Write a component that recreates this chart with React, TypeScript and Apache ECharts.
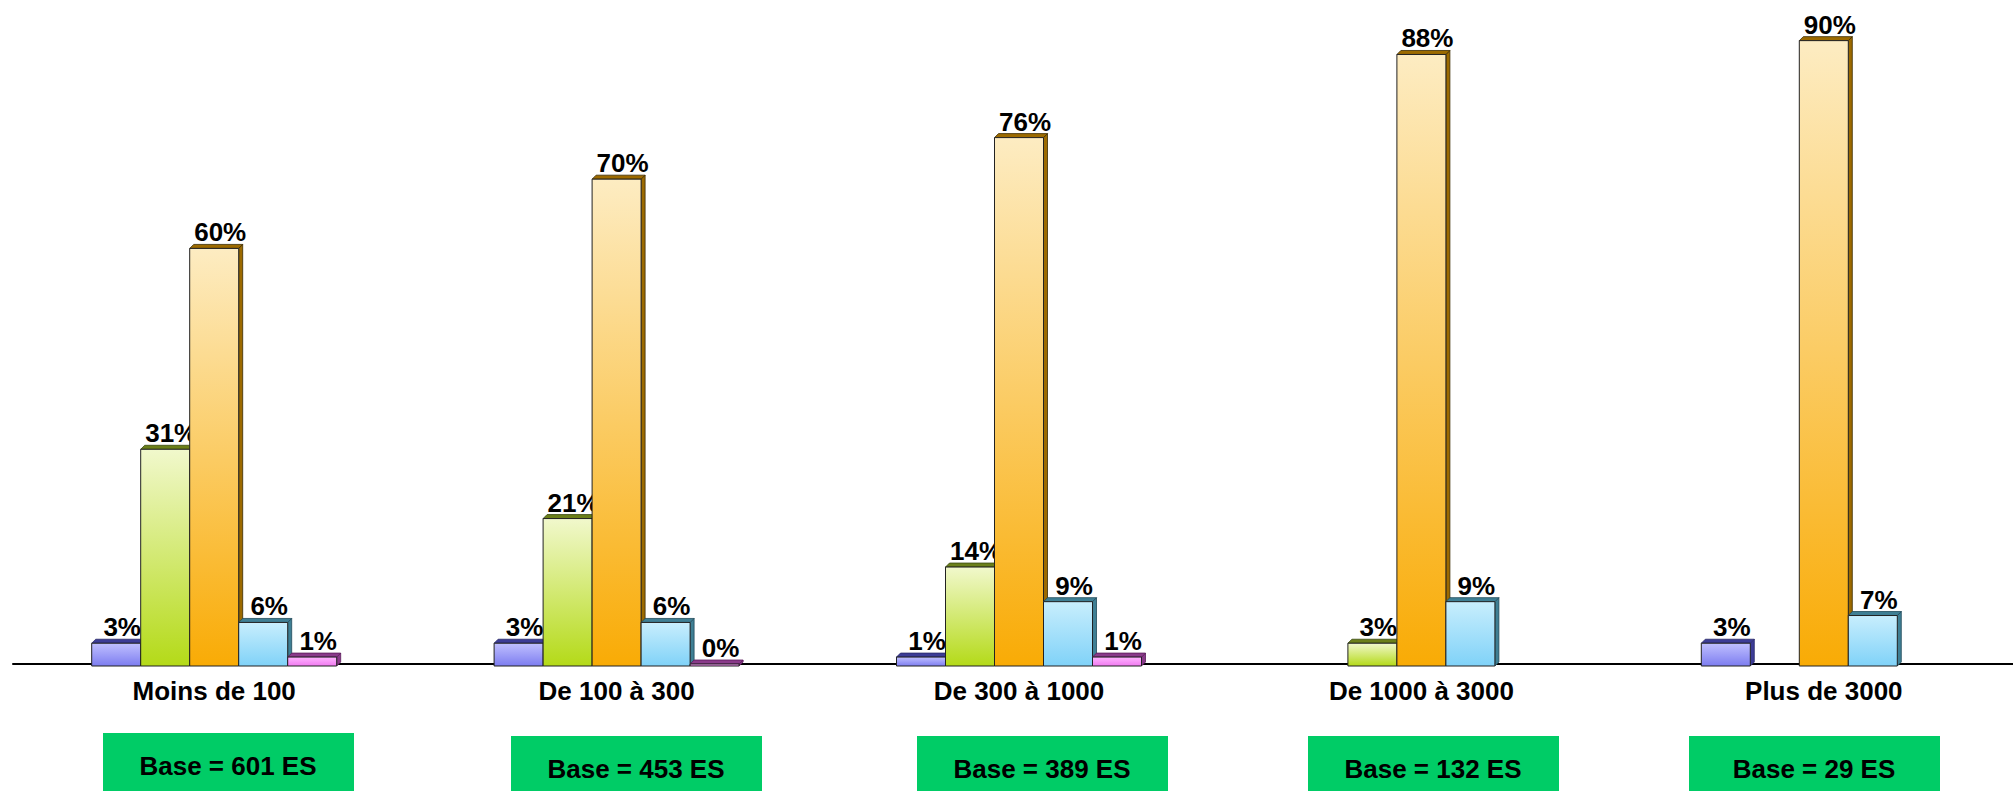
import React, { useEffect, useRef } from "react";
import * as echarts from "echarts";

const categories = ["Moins de 100", "De 100 à 300", "De 300 à 1000", "De 1000 à 3000", "Plus de 3000"];
const serieA = [3, 3, 1, null, 3];
const serieB = [31, 21, 14, 3, null];
const serieC = [60, 70, 76, 88, 90];
const serieD = [6, 6, 9, 9, 7];
const serieE = [1, 0, 1, null, null];
const bases = ["Base = 601 ES", "Base = 453 ES", "Base = 389 ES", "Base = 132 ES", "Base = 29 ES"];

const allSeries = [serieA, serieB, serieC, serieD, serieE];

const palettes = [
  { top: "#c0c0ff", bottom: "#7d7df0", side: "#3c3c96", border: "#2a2a6a" },
  { top: "#f1f8cc", bottom: "#b4da18", side: "#6b7f1a", border: "#3a4a10" },
  { top: "#fdecc2", bottom: "#f9ab05", side: "#9c6a00", border: "#3a2a00" },
  { top: "#c8eefd", bottom: "#80d2f8", side: "#3f7f94", border: "#1f4a5a" },
  { top: "#ffb4ff", bottom: "#f07af0", side: "#8a3a8a", border: "#5a1a5a" },
];

const BAR_FRACTION = 49 / 402.4;
const DEPTH = 4;
const FONT = '"Liberation Sans", Arial, sans-serif';
const CHART_W = 2040;
const boxLeft = [103, 511, 917, 1308, 1689];
const boxTop = [733, 736, 736, 736, 736];

function makeRender(s: number) {
  return (params: any, api: any) => {
    const cat = api.value(0);
    const val = api.value(1);
    const p0 = api.coord([cat, 0]);
    const p1 = api.coord([cat, val]);
    const band = api.size([1, 0])[0];
    const bw = band * BAR_FRACTION;
    const x = p0[0] + (s - 2.5) * bw;
    const yTop = p1[1];
    const yBot = p0[1] + 2;
    const d = DEPTH;
    const pal = palettes[s];
    return {
      type: "group",
      children: [
        {
          type: "polygon",
          shape: { points: [[x + bw, yTop], [x + bw + d, yTop - d], [x + bw + d, yBot - d], [x + bw, yBot]] },
          style: { fill: pal.side, stroke: pal.border, lineWidth: 0.8 },
        },
        {
          type: "polygon",
          shape: { points: [[x, yTop], [x + d, yTop - d], [x + bw + d, yTop - d], [x + bw, yTop]] },
          style: { fill: pal.side, stroke: pal.border, lineWidth: 0.8 },
        },
        {
          type: "rect",
          shape: { x, y: yTop, width: bw, height: Math.max(yBot - yTop, 1) },
          style: {
            fill: new echarts.graphic.LinearGradient(0, 0, 0, 1, [
              { offset: 0, color: pal.top },
              { offset: 1, color: pal.bottom },
            ]),
            stroke: "#222",
            lineWidth: 1,
          },
        },
        {
          type: "text",
          style: {
            text: val + "%",
            x: x + bw / 2 + 6,
            y: yTop - 3,
            align: "center",
            verticalAlign: "bottom",
            fontSize: 26,
            fontWeight: "bold",
            fontFamily: FONT,
            fill: "#000",
          },
        },
      ],
    };
  };
}

export default function App() {
  const ref = useRef<HTMLDivElement>(null);
  useEffect(() => {
    if (!ref.current) return;
    const chart = echarts.init(ref.current, null, { renderer: "svg" });
    const series = allSeries.map((arr, s) => ({
      type: "custom",
      name: "s" + s,
      renderItem: makeRender(s),
      data: arr.map((v, i) => (v == null ? null : [i, v])).filter((v) => v !== null),
      encode: { x: 0, y: 1 },
      clip: false,
    }));
    const graphic: any[] = [];
    bases.forEach((t, i) => {
      graphic.push({
        type: "rect",
        shape: { x: boxLeft[i], y: boxTop[i], width: 251, height: 70 },
        style: { fill: "#00cc66" },
      });
      graphic.push({
        type: "text",
        x: boxLeft[i] + 125,
        y: boxTop[i] + 33,
        style: {
          text: t,
          align: "center",
          verticalAlign: "middle",
          fontSize: 26,
          fontWeight: "bold",
          fontFamily: FONT,
          fill: "#000",
        },
      });
    });
    chart.setOption({
      animation: false,
      backgroundColor: "#ffffff",
      grid: { left: 13, right: CHART_W - 13 - 2012, top: 6, bottom: 127, containLabel: false },
      xAxis: {
        type: "category",
        data: categories,
        axisLine: { show: true, lineStyle: { color: "#000", width: 2 } },
        axisTick: { show: false },
        axisLabel: {
          margin: 14,
          fontSize: 26,
          fontWeight: "bold",
          fontFamily: FONT,
          color: "#000",
        },
        splitLine: { show: false },
      },
      yAxis: { type: "value", min: 0, max: 95, show: false },
      series,
      graphic,
    });
    return () => chart.dispose();
  }, []);
  return (
    <div style={{ position: "fixed", left: 0, top: 0, width: 2013, height: 791, overflow: "hidden", background: "#fff" }}>
      <div ref={ref} style={{ position: "absolute", left: 0, top: 0, width: CHART_W, height: 791 }} />
    </div>
  );
}
